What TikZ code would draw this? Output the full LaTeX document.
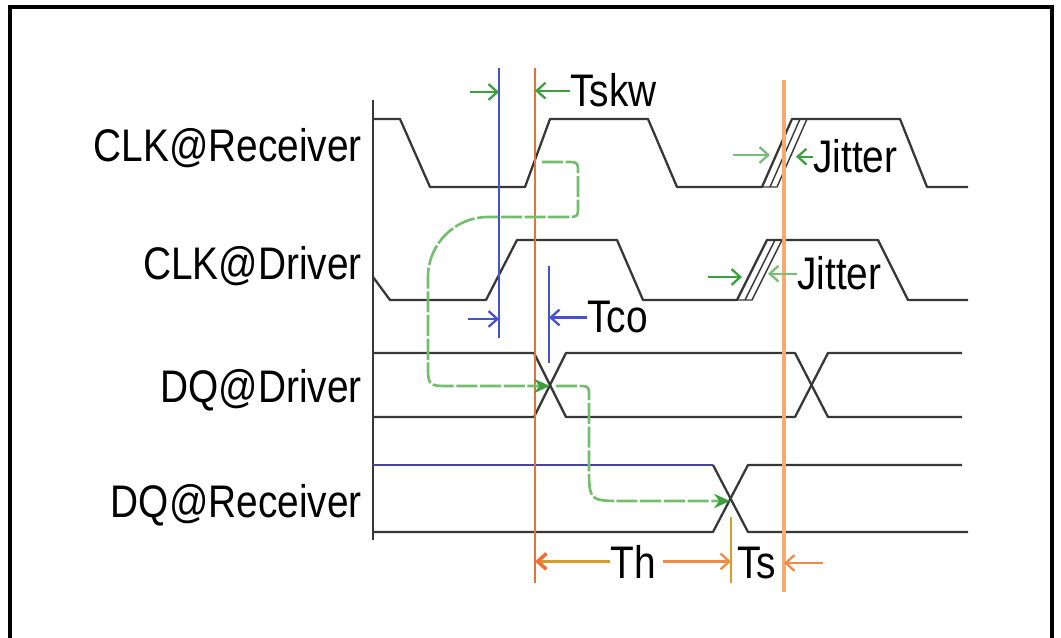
\documentclass[tikz,border=0pt]{standalone}
\usepackage{fontspec}
\newfontfamily\labelfont[FakeStretch=0.85]{Liberation Sans}
\usetikzlibrary{arrows.meta}

\definecolor{wavegray}{RGB}{55,55,55}
\definecolor{navywave}{RGB}{70,70,150}
\definecolor{refred}{RGB}{240,110,50}
\definecolor{reforange}{RGB}{245,170,110}
\definecolor{dimorange}{RGB}{238,140,70}
\definecolor{skwgreen}{RGB}{60,160,60}
\definecolor{flowgreen}{RGB}{115,190,110}
\definecolor{tcoblue}{RGB}{70,80,210}
\definecolor{holdgold}{RGB}{215,155,40}

\begin{document}
\begin{tikzpicture}[x=0.02cm, y=-0.02cm,
    wave/.style ={draw=wavegray, line width=1.3pt, line join=round},
    signame/.style ={font={\labelfont\fontsize{26}{28}\selectfont}, inner sep=0pt, anchor=base east},
    dimtext/.style ={font={\labelfont\fontsize{26}{28}\selectfont}, inner sep=0pt, anchor=base west},
    dimarrow/.style ={-{Straight Barb[length=5pt,width=9pt]}, line width=1.3pt},
    flow/.style ={draw=flowgreen, line width=1.5pt, dash pattern=on 12pt off 1.5pt,
                  -{Stealth[length=9pt,width=8pt,color=skwgreen]}}]
   \useasboundingbox (0,0) rectangle (1061,638);
   \draw[line width=1.8pt] (10,638) -- (10,7) -- (1052,7) -- (1052,638);

   % signal names
   \node[signame] (clkrx)  at (362,162) {CLK@Receiver};
   \node[signame] (clkdrv) at (362,280) {CLK@Driver};
   \node[signame] (dqdrv)  at (362,402) {DQ@Driver};
   \node[signame] (dqrx)   at (362,517) {DQ@Receiver};

   \draw[draw=wavegray, line width=1.2pt] (373,100) -- (373,540);

   % waveforms
   \draw[wave] (373,119) -- (400,119) -- (430,187) -- (525,187) -- (550,119) -- (648,119)
      -- (677,187) -- (762,187) -- (792,119) -- (900,119) -- (927,187) -- (968,187);
   \draw[wave, line width=0.8pt] (762,187) -- (777,187) -- (807,119) -- (792,119);
   \draw[wave, line width=0.8pt] (770,187) -- (800,119);

   \draw[wave] (373,277) -- (390,300) -- (486,300) -- (517,240) -- (617,240) -- (643,300)
      -- (737,300) -- (767,240) -- (878,240) -- (908,300) -- (968,300);
   \draw[wave, line width=0.8pt] (737,300) -- (752,300) -- (782,240) -- (767,240);
   \draw[wave, line width=0.8pt] (745,300) -- (775,240);

   \draw[wave] (373,353) -- (534,353) -- (566,417) -- (795,417) -- (828,353) -- (962,353);
   \draw[wave] (373,417) -- (534,417) -- (566,353) -- (795,353) -- (828,417) -- (962,417);

   \draw[wave] (373,532) -- (713,532) -- (748,465) -- (962,465);
   \draw[wave] (713,465) -- (748,532) -- (968,532);
   \draw[wave, draw=navywave] (373,465) -- (713,465);

   % reference lines
   \coordinate (drvtop) at (499,68);  \coordinate (drvbot) at (499,338);
   \coordinate (rxtop)  at (535,68);  \coordinate (rxbot)  at (535,583);
   \coordinate (tcotop) at (549,266); \coordinate (tcobot) at (549,363);
   \coordinate (jtop)   at (784,80);  \coordinate (jbot)   at (784,592);
   \coordinate (tstop)  at (731,517); \coordinate (tsbot)  at (731,583);
   \draw[tcoblue, line width=1pt] (drvtop) -- (drvbot);
   \draw[tcoblue, line width=1.2pt] (tcotop) -- (tcobot);
   \draw[refred, line width=1.2pt] (rxtop) -- (rxbot);
   \draw[reforange, line width=2.2pt] (jtop) -- (jbot);
   \draw[holdgold, line width=1.6pt] (tstop) -- (tsbot);

   % data flow
   \coordinate (xdrv) at (550,386);
   \coordinate (xrx)  at (730,501);
   \draw[flow] (542,162) -- (566,162) .. controls (578,162) .. (578,174) -- (578,205)
      .. controls (578,217) .. (566,217) -- (488,217) .. controls (455,217) and (428,244) .. (428,277)
      -- (428,364) .. controls (428,386) .. (450,386) -- (xdrv);
   \draw[flow] (556,386) -- (577,386) .. controls (589,386) .. (589,398) -- (589,466)
      .. controls (589,501) .. (624,501) -- (xrx);

   % Tskw
   \node[dimtext] (tskw) at (570,107) {Tskw};
   \coordinate (skwtail) at (470,92);
   \draw[dimarrow, skwgreen] (skwtail) -- (skwtail -| drvtop);
   \draw[dimarrow, skwgreen] (tskw.west) -- (tskw.west -| rxtop);

   % Tco
   \node[dimtext] (tco) at (587,333) {Tco};
   \coordinate (tcotail) at (468,319);
   \draw[dimarrow, tcoblue] (tcotail) -- (tcotail -| drvtop);
   \draw[dimarrow, tcoblue] (tco.west) -- (tco.west -| tcotop);

   % Jitter
   \node[dimtext] (jit1) at (813,173) {Jitter};
   \coordinate (j1tail) at (733,155); \coordinate (j1tip) at (770,155);
   \coordinate (j1right) at (796,157);
   \draw[dimarrow, skwgreen!70] (j1tail) -- (j1tip);
   \draw[dimarrow, skwgreen] (jit1.west) -- (jit1.west -| j1right);

   \node[dimtext] (jit2) at (797,290) {Jitter};
   \coordinate (j2tail) at (708,277); \coordinate (j2tip) at (742,277);
   \coordinate (j2right) at (768,277);
   \draw[dimarrow, skwgreen] (j2tail) -- (j2tip);
   \draw[dimarrow, skwgreen!70] (jit2.west) -- (jit2.west -| j2right);

   % Th / Ts
   \node[dimtext] (th) at (610,578) {Th};
   \node[dimtext] (ts) at (737,578) {Ts};
   \draw[holdgold, line width=2pt, -{Straight Barb[length=5pt,width=9pt,color=refred]}]
      (th.west) -- (th.west -| rxbot);
   \draw[dimarrow, dimorange, line width=1.3pt, shorten <=4pt] (th.east) -- (th.east -| tstop);
   \coordinate (sutail) at (823,563);
   \draw[dimarrow, dimorange, line width=1.3pt] (sutail) -- (sutail -| jtop);
 \end{tikzpicture}
\end{document}
